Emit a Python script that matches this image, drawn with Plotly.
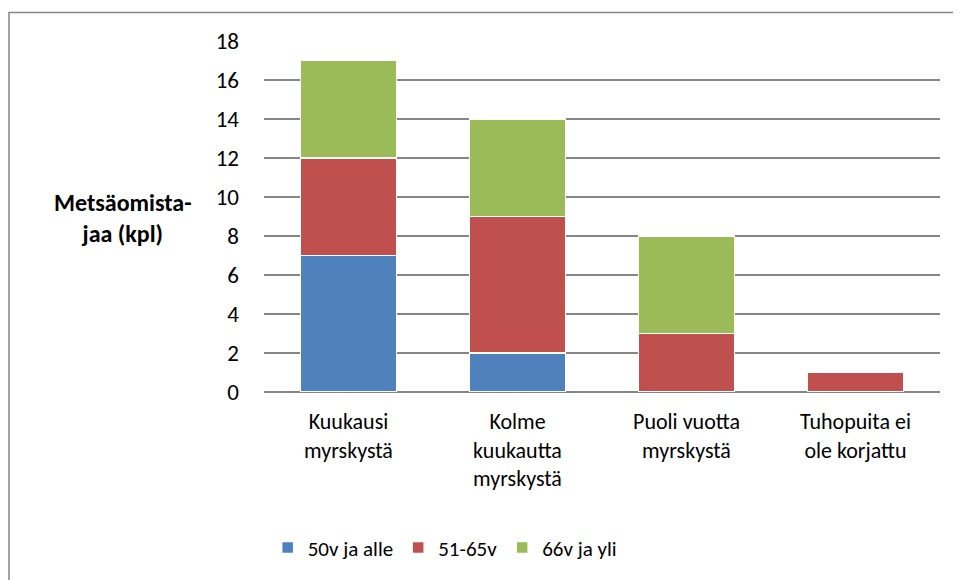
import plotly.graph_objects as go

categories = ['Kuukausi<br>myrskystä',
              'Kolme<br>kuukautta<br>myrskystä',
              'Puoli vuotta<br>myrskystä',
              'Tuhopuita ei<br>ole korjattu']

series_names = ['50v ja alle', '51-65v', '66v ja yli']
under_50 = [7, 2, 0, 0]
from_51_to_65 = [5, 7, 3, 1]
over_66 = [5, 5, 5, 0]

colors = ['#4F81BD', '#C0504D', '#9BBB59']
font_family = 'Carlito, Calibri, Lato, sans-serif'

fig = go.Figure()
for name, vals, col in zip(series_names, [under_50, from_51_to_65, over_66], colors):
    fig.add_trace(go.Bar(x=categories,
                         y=vals,
                         name=name,
                         marker=dict(color=col, line=dict(color='white', width=1.5))
                         ))

# page body has an 8px margin, so the figure is shifted by 8px
fig.update_layout(width=953,
                  height=572,
                  barmode='stack',
                  bargap=0.43,
                  plot_bgcolor='white',
                  paper_bgcolor='white',
                  margin=dict(l=256, r=21, t=33, b=188),
                  font=dict(family=font_family, size=21, color='black'),
                  showlegend=True,
                  legend=dict(orientation='h', x=0.268, y=-0.444,
                              xanchor='center', yanchor='middle',
                              font=dict(size=21), traceorder='normal',
                              itemwidth=30))

fig.update_yaxes(range=[0, 18], dtick=2, showgrid=True,
                 gridcolor='#868686', gridwidth=1.5,
                 zeroline=True, zerolinecolor='#868686', zerolinewidth=1.5,
                 showline=False, ticks='', ticklabelstandoff=24,
                 tickfont=dict(size=23))
fig.update_xaxes(showline=False, ticks='', tickfont=dict(size=22),
                 ticklabelstandoff=14)

# y axis title, horizontal like in the original
fig.add_annotation(text='<b>Metsäomista-<br>jaa (kpl)</b>',
                   xref='paper', yref='paper', x=-0.208, y=0.497,
                   xanchor='center', yanchor='middle',
                   showarrow=False, align='center',
                   font=dict(size=24, family=font_family))

# chart area border
fig.add_shape(type='rect', xref='paper', yref='paper',
              x0=(1 - 256) / 676, x1=1.1,
              y0=-0.6, y1=(351 + 33 - 4.5) / 351,
              line=dict(color='#868686', width=1.5), layer='below')

fig.write_html("out.html")
